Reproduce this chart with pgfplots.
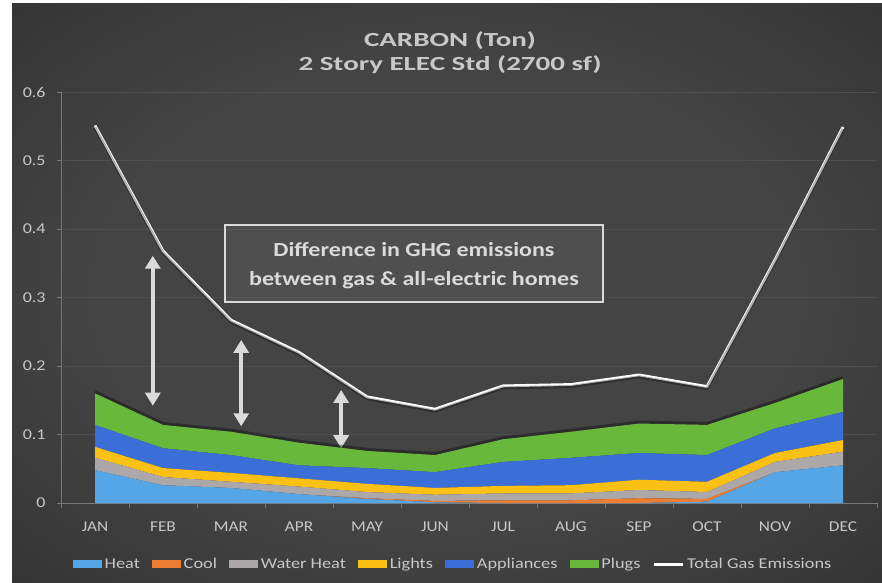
\documentclass[border=0pt]{standalone}
\usepackage{pgfplots}
\pgfplotsset{compat=1.18}
\usepackage{fontspec}
\setmainfont{Carlito}
\usetikzlibrary{arrows.meta}
\definecolor{bgin}{RGB}{68,68,68}
\definecolor{bgout}{RGB}{38,38,38}
\definecolor{heat}{RGB}{84,166,230}
\definecolor{cool}{RGB}{237,125,49}
\definecolor{wheat}{RGB}{172,168,170}
\definecolor{lights}{RGB}{250,192,20}
\definecolor{appl}{RGB}{60,110,215}
\definecolor{plugs}{RGB}{104,184,60}
\definecolor{txt}{RGB}{200,200,200}
\definecolor{gridc}{RGB}{78,78,78}
\definecolor{axc}{RGB}{120,120,120}
\definecolor{arr}{RGB}{218,218,218}
\pgfdeclareradialshading{vign}{\pgfpoint{0bp}{0bp}}{color(0bp)=(bgin); color(20bp)=(bgin); color(50bp)=(bgout)}
\pgfplotsset{
  arealeg/.style={legend image code/.code={\fill[##1] (0pt,-4pt) rectangle (29pt,4pt);}},
  lineleg/.style={legend image code/.code={\draw[##1] (0pt,0pt) -- (29pt,0pt);}},
}
\begin{document}
\begin{tikzpicture}[x=1pt,y=1pt]
\path[use as bounding box] (0,0) rectangle (882,582);
\fill[white] (0,0) rectangle (882,582);
\shade[shading=vign] (12,0) rectangle (882,578);
\node[text=txt, xscale=1.45, font=\bfseries\fontsize{20}{20}\selectfont] at (450,541) {CARBON (Ton)};
\node[text=txt, xscale=1.45, font=\bfseries\fontsize{20}{20}\selectfont] at (450,517) {2 Story ELEC Std (2700 sf)};
\begin{axis}[
  at={(61pt,79pt)}, anchor=south west,
  scale only axis, width=816pt, height=411pt,
  xmin=-0.5, xmax=11.5, ymin=0, ymax=0.6,
  stack plots=y,
  axis lines=left, axis line style={-, draw=axc, line width=0.8pt},
  xtick={0,...,11},
  xticklabels={JAN,FEB,MAR,APR,MAY,JUN,JUL,AUG,SEP,OCT,NOV,DEC},
  x tick style={draw=none},
  minor xtick={-0.5,0.5,...,11.5},
  minor x tick style={draw=axc, line width=0.8pt},
  minor tick length=5pt,
  ytick={0,0.1,...,0.6},
  yticklabels={0,0.1,0.2,0.3,0.4,0.5,0.6},
  y tick style={draw=axc, line width=0.8pt},
  major tick length=4pt, tick align=outside,
  ymajorgrids, grid style={draw=gridc, line width=0.8pt},
  /pgf/number format/assume math mode=true,
  xticklabel style={text=txt, xscale=1.15, font=\fontsize{15}{15}\selectfont, yshift=-11pt},
  yticklabel style={text=txt, xscale=1.2, font=\fontsize{15}{15}\selectfont, xshift=-6pt},
  legend columns=-1,
  legend style={at={(0.481,-0.149)}, anchor=center, draw=none, fill=none,
    text=txt, font=\fontsize{15}{15}\selectfont,
    nodes={xscale=1.22, inner sep=2pt},
    /tikz/every even column/.append style={column sep=10pt}},
  clip=false,
]
\addplot[draw=none, fill=heat, arealeg] coordinates {
(0,0.048) (1,0.026) (2,0.022) (3,0.013) (4,0.006) (5,0.001) (6,0) (7,0) (8,0) (9,0.002) (10,0.045) (11,0.055)} \closedcycle;
\addplot[draw=none, fill=cool, arealeg] coordinates {
(0,0) (1,0) (2,0) (3,0) (4,0.001) (5,0.002) (6,0.004) (7,0.004) (8,0.007) (9,0.004) (10,0) (11,0)} \closedcycle;
\addplot[draw=none, fill=wheat, arealeg] coordinates {
(0,0.018) (1,0.012) (2,0.009) (3,0.011) (4,0.009) (5,0.009) (6,0.010) (7,0.010) (8,0.012) (9,0.010) (10,0.015) (11,0.020)} \closedcycle;
\addplot[draw=none, fill=lights, arealeg] coordinates {
(0,0.016) (1,0.013) (2,0.013) (3,0.012) (4,0.012) (5,0.010) (6,0.011) (7,0.012) (8,0.015) (9,0.015) (10,0.013) (11,0.017)} \closedcycle;
\addplot[draw=none, fill=appl, arealeg] coordinates {
(0,0.032) (1,0.029) (2,0.026) (3,0.019) (4,0.023) (5,0.023) (6,0.035) (7,0.040) (8,0.039) (9,0.039) (10,0.036) (11,0.041)} \closedcycle;
\addplot[draw=none, fill=plugs, arealeg] coordinates {
(0,0.046) (1,0.034) (2,0.034) (3,0.033) (4,0.025) (5,0.025) (6,0.033) (7,0.038) (8,0.043) (9,0.044) (10,0.037) (11,0.048)} \closedcycle;
\addplot[forget plot, draw=black, draw opacity=0.35, line width=3pt, yshift=1.5pt, mark=none] coordinates {
(0,0) (1,0) (2,0) (3,0) (4,0) (5,0) (6,0) (7,0) (8,0) (9,0) (10,0) (11,0)};
\addplot[forget plot, stack plots=false, draw=black, draw opacity=0.3, line width=3pt, yshift=-2pt, line join=round, mark=none] coordinates {
(0,0.551) (1,0.368) (2,0.267) (3,0.220) (4,0.155) (5,0.137) (6,0.171) (7,0.173) (8,0.187) (9,0.170) (10,0.355) (11,0.549)};
\addplot[stack plots=false, draw=white, line width=2.8pt, line join=round, mark=none, lineleg] coordinates {
(0,0.551) (1,0.368) (2,0.267) (3,0.220) (4,0.155) (5,0.137) (6,0.171) (7,0.173) (8,0.187) (9,0.170) (10,0.355) (11,0.549)};
\legend{Heat,Cool,Water Heat,Lights,Appliances,Plugs,Total Gas Emissions}
\draw[arr, line width=4.5pt, {Triangle[width=15pt,length=13pt]}-{Triangle[width=15pt,length=13pt]}] (axis cs:0.85,0.142) -- (axis cs:0.85,0.361);
\draw[arr, line width=4.5pt, {Triangle[width=15pt,length=13pt]}-{Triangle[width=15pt,length=13pt]}] (axis cs:2.15,0.112) -- (axis cs:2.15,0.238);
\draw[arr, line width=4.5pt, {Triangle[width=15pt,length=13pt]}-{Triangle[width=15pt,length=13pt]}] (axis cs:3.62,0.080) -- (axis cs:3.62,0.165);
\end{axis}
\fill[white, fill opacity=0.06] (225,280) rectangle (603,357);
\draw[arr, line width=1.2pt] (225,280) rectangle (603,357);
\node[text=arr, xscale=1.2, font=\bfseries\fontsize{20}{20}\selectfont] at (414,332) {Difference in GHG emissions};
\node[text=arr, xscale=1.2, font=\bfseries\fontsize{20}{20}\selectfont] at (414,302) {between gas \& all-electric homes};
\end{tikzpicture}
\end{document}
